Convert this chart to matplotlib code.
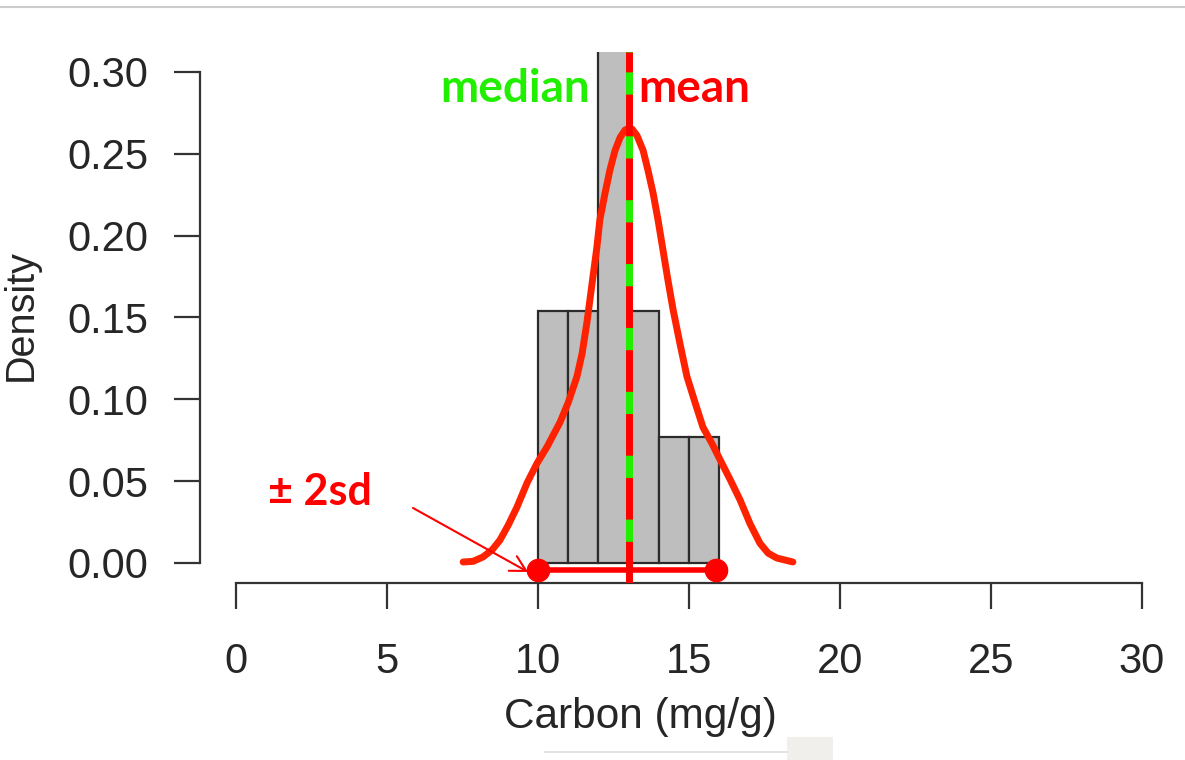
import matplotlib
matplotlib.use("Agg")
import matplotlib.pyplot as plt
from matplotlib.lines import Line2D
from matplotlib.patches import Rectangle

# histogram of carbon (density scale), bins of width 1
bin_left = [10, 11, 12, 13, 14, 15]
bin_density = [0.154, 0.154, 0.385, 0.154, 0.077, 0.077]

# density curve
kde_x = [7.52, 7.85, 8.18, 8.48, 8.74, 9.01, 9.30, 9.64, 9.97, 10.30, 10.73, 11.00,
         11.29, 11.46, 11.62, 11.72, 11.82, 11.95, 12.05, 12.22, 12.38, 12.55, 12.72,
         12.88, 13.00, 13.12, 13.28, 13.48, 13.64, 13.81, 13.97, 14.14, 14.30, 14.47, 14.70,
         14.93, 15.20, 15.46, 15.76, 16.03, 16.36, 16.69, 17.02, 17.35, 17.62, 17.91, 18.44]
kde_y = [0.0006, 0.001, 0.0037, 0.008, 0.014, 0.023, 0.034, 0.049, 0.061, 0.071, 0.086, 0.098,
         0.114, 0.128, 0.147, 0.161, 0.175, 0.193, 0.210, 0.226, 0.240, 0.252, 0.260,
         0.2645, 0.2655, 0.265, 0.261, 0.252, 0.240, 0.226, 0.210, 0.191, 0.173, 0.155, 0.134,
         0.114, 0.098, 0.083, 0.073, 0.063, 0.051, 0.0385, 0.024, 0.012, 0.006, 0.003, 0.0006]

mean_val = 13.0
median_val = 13.0
sd_range = [10.0, 15.9]
sd_level = -0.004

xticks = [0, 5, 10, 15, 20, 25, 30]
yticks = [0.00, 0.05, 0.10, 0.15, 0.20, 0.25, 0.30]

RED = '#ff0000'
CURVE = '#ff2200'
GREEN = '#22ee00'
AXCOL = '#333333'
TXT = '#262626'

fig = plt.figure(figsize=(11.85, 7.6), dpi=100)
ax = fig.add_axes([0.1686, 0.2334, 0.8257, 0.6978])
ax.set_xlim(-1.2, 31.2)
ax.set_ylim(-0.012, 0.312)

# bars
ax.bar(bin_left, bin_density, width=1, align='edge', color='#bebebe',
       edgecolor='#2b2b2b', linewidth=1.6, zorder=2)

# density curve
ax.plot(kde_x, kde_y, color=CURVE, lw=5, solid_capstyle='round',
        solid_joinstyle='round', zorder=3)

# median (green) and mean (red dashed)
ax.axvline(median_val, color=GREEN, lw=5, zorder=4)
ax.axvline(mean_val, color=RED, lw=5, dashes=(6, 3.2), zorder=5)

# +/- 2 sd segment
ax.plot(sd_range, [sd_level, sd_level], color=RED, lw=4, zorder=6)
ax.plot(sd_range, [sd_level, sd_level], 'o', color=RED, ms=16, zorder=6)

# annotations
ax.text(11.72, 0.2817, 'median', color=GREEN, fontsize=33, fontweight='bold',
        family='Lato', ha='right', va='baseline', zorder=7)
ax.text(13.31, 0.2817, 'mean', color=RED, fontsize=33, fontweight='bold',
        family='Lato', ha='left', va='baseline', zorder=7)
ax.text(1.06, 0.0354, '± 2sd', color=RED, fontsize=31, fontweight='bold',
        family='Lato', ha='left', va='baseline', zorder=7)
ax.annotate('', xy=(9.67, -0.0055), xytext=(5.86, 0.0336),
            arrowprops=dict(arrowstyle='->,head_length=0.55,head_width=0.3',
                            mutation_scale=20, color=RED, lw=1.5,
                            shrinkA=0, shrinkB=0), zorder=7)

# R-style detached axes
for s in ['top', 'right']:
    ax.spines[s].set_visible(False)
ax.spines['left'].set_bounds(0, 0.30)
ax.spines['bottom'].set_bounds(0, 30)
for s in ['left', 'bottom']:
    ax.spines[s].set_color(AXCOL)
    ax.spines[s].set_linewidth(1.6)
ax.set_xticks(xticks)
ax.set_yticks(yticks)
ax.set_yticklabels([f'{v:.2f}' for v in yticks])
ax.tick_params(axis='both', length=19, width=1.6, color=AXCOL, labelcolor=TXT,
               labelsize=30)
ax.tick_params(axis='y', pad=18)
ax.tick_params(axis='x', pad=24)
for lab in ax.get_xticklabels() + ax.get_yticklabels():
    lab.set_family('Liberation Sans')

ax.set_xlabel('Carbon (mg/g)', fontsize=30.5, family='Liberation Sans', color=TXT)
ax.set_ylabel('Density', fontsize=28.5, family='Liberation Sans', color=TXT)
ax.xaxis.set_label_coords(0.4499, -0.2157)
ax.yaxis.set_label_coords(-0.1635, 0.5046)

# screenshot frame bits
fig.add_artist(Line2D([0, 1], [1 - 7 / 760, 1 - 7 / 760], color='#cccccc', lw=1.5))
fig.add_artist(Line2D([545 / 1185, 787 / 1185], [1 - 752 / 760, 1 - 752 / 760],
                      color='#dddddd', lw=1.2))
fig.add_artist(Rectangle((787 / 1185, 0), 46 / 1185, 23 / 760, color='#f0efec', lw=0))

fig.savefig('out.png', dpi=100)
